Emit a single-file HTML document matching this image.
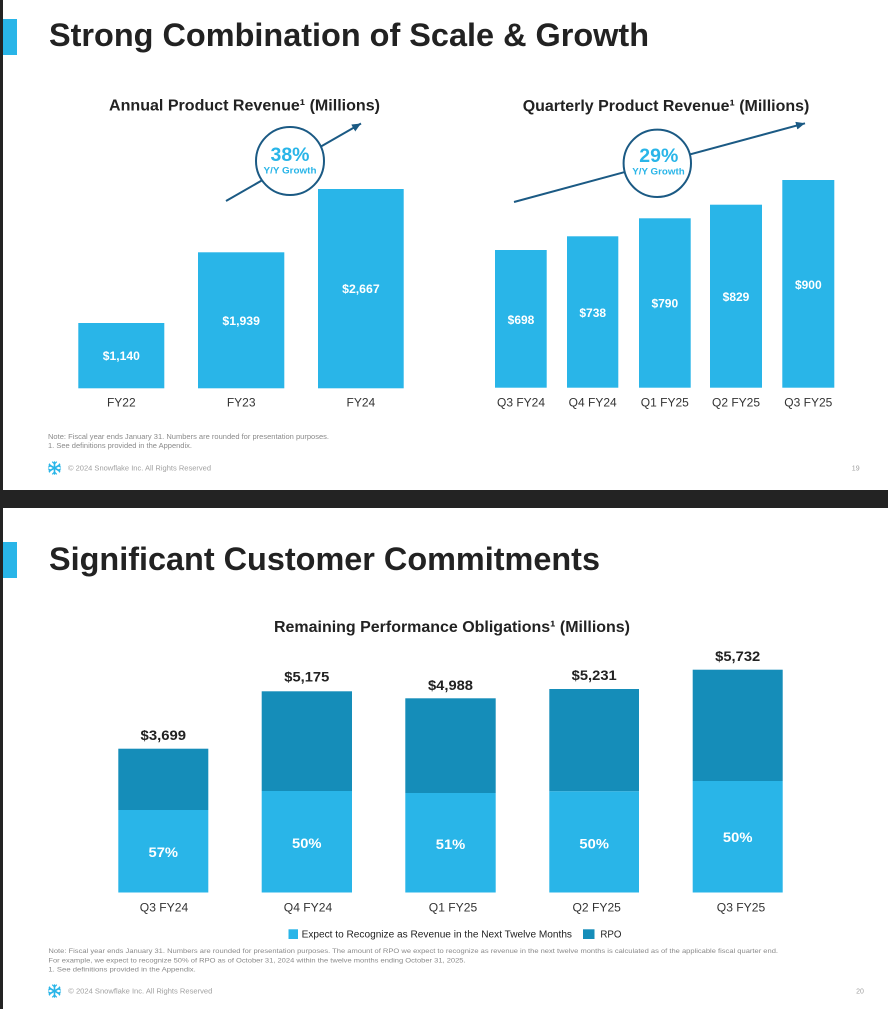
<!DOCTYPE html>
<html>
<head>
<meta charset="utf-8">
<style>
  html,body{margin:0;padding:0;background:#fff;}
  body{width:888px;height:1009px;overflow:hidden;}
  svg{display:block;font-family:"Liberation Sans",Arial,sans-serif;}
</style>
</head>
<body>
<svg width="888" height="1009" viewBox="0 0 888 1009" xmlns="http://www.w3.org/2000/svg">
  <defs>
    <marker id="ah" markerUnits="userSpaceOnUse" markerWidth="10" markerHeight="10" refX="9" refY="4" orient="auto">
      <path d="M0,0 L9,4 L0,8 z" fill="#1b5a84"/>
    </marker>
    <g id="flake" stroke="#29b5e8" stroke-width="1.6" stroke-linecap="round" fill="none">
      <line x1="0" y1="-6" x2="0" y2="6"/>
      <line x1="-5.2" y1="-3" x2="5.2" y2="3"/>
      <line x1="-5.2" y1="3" x2="5.2" y2="-3"/>
      <path d="M-2,-6 L0,-4 L2,-6 M-2,6 L0,4 L2,6" stroke-width="1.2"/>
      <path d="M-6,-1 L-4,-2 L-5,-4 M6,1 L4,2 L5,4 M-6,1 L-4,2 L-5,4 M6,-1 L4,-2 L5,-4" stroke-width="1.2"/>
    </g>
  </defs>

  <!-- frame -->
  <rect x="0" y="0" width="3" height="1009" fill="#232323"/>
  <rect x="0" y="490" width="888" height="18" fill="#232323"/>

  <!-- ============ SLIDE 19 ============ -->
  <rect x="3" y="19" width="14" height="36" fill="#29b5e8"/>
  <text x="49" y="46" font-size="32" font-weight="bold" fill="#222" textLength="600" lengthAdjust="spacingAndGlyphs">Strong Combination of Scale &amp; Growth</text>

  <!-- Annual chart -->
  <text x="109" y="110.7" font-size="16" font-weight="bold" fill="#222" textLength="271" lengthAdjust="spacingAndGlyphs">Annual Product Revenue¹ (Millions)</text>

  <line x1="226" y1="201" x2="361" y2="123.5" stroke="#1b5a84" stroke-width="2" marker-end="url(#ah)"/>
  <circle cx="290" cy="161" r="34" fill="#fff" stroke="#1b5a84" stroke-width="2"/>
  <text x="290" y="161" font-size="19" font-weight="bold" fill="#29b5e8" text-anchor="middle" textLength="39" lengthAdjust="spacingAndGlyphs">38%</text>
  <text x="290" y="173.3" font-size="9.5" font-weight="bold" fill="#29b5e8" text-anchor="middle" textLength="53" lengthAdjust="spacingAndGlyphs">Y/Y Growth</text>

  <g fill="#29b5e8">
    <rect x="78.3" y="323" width="86" height="65.3"/>
    <rect x="198" y="252.3" width="86.3" height="136"/>
    <rect x="318" y="189" width="85.7" height="199.3"/>
  </g>
  <g font-size="12" font-weight="bold" fill="#fff" text-anchor="middle">
    <text x="121.3" y="360" textLength="37" lengthAdjust="spacingAndGlyphs">$1,140</text>
    <text x="241.2" y="325" textLength="37.5" lengthAdjust="spacingAndGlyphs">$1,939</text>
    <text x="360.9" y="293" textLength="37.5" lengthAdjust="spacingAndGlyphs">$2,667</text>
  </g>
  <g font-size="12" fill="#333" text-anchor="middle">
    <text x="121.3" y="406.6">FY22</text>
    <text x="241.2" y="406.6">FY23</text>
    <text x="360.9" y="406.6">FY24</text>
  </g>

  <!-- Quarterly chart -->
  <text x="522.7" y="111" font-size="16" font-weight="bold" fill="#222" textLength="286.6" lengthAdjust="spacingAndGlyphs">Quarterly Product Revenue¹ (Millions)</text>

  <line x1="514" y1="202" x2="805" y2="123.3" stroke="#1b5a84" stroke-width="2" marker-end="url(#ah)"/>
  <circle cx="657.3" cy="163.3" r="33.7" fill="#fff" stroke="#1b5a84" stroke-width="2"/>
  <text x="658.8" y="162" font-size="19" font-weight="bold" fill="#29b5e8" text-anchor="middle" textLength="39" lengthAdjust="spacingAndGlyphs">29%</text>
  <text x="658.5" y="174.7" font-size="9.5" font-weight="bold" fill="#29b5e8" text-anchor="middle" textLength="52.4" lengthAdjust="spacingAndGlyphs">Y/Y Growth</text>

  <g fill="#29b5e8">
    <rect x="495" y="250" width="51.7" height="137.7"/>
    <rect x="567" y="236.3" width="51.3" height="151.4"/>
    <rect x="639" y="218.3" width="51.7" height="169.4"/>
    <rect x="710" y="204.7" width="52" height="183"/>
    <rect x="782.3" y="180" width="52" height="207.7"/>
  </g>
  <g font-size="12" font-weight="bold" fill="#fff" text-anchor="middle">
    <text x="521" y="324">$698</text>
    <text x="592.7" y="317">$738</text>
    <text x="664.8" y="307.6">$790</text>
    <text x="736" y="301">$829</text>
    <text x="808.3" y="289">$900</text>
  </g>
  <g font-size="12" fill="#333" text-anchor="middle">
    <text x="521" y="406.6">Q3 FY24</text>
    <text x="592.7" y="406.6">Q4 FY24</text>
    <text x="664.8" y="406.6">Q1 FY25</text>
    <text x="736" y="406.6">Q2 FY25</text>
    <text x="808.3" y="406.6">Q3 FY25</text>
  </g>

  <!-- notes / footer 19 -->
  <g font-size="7" fill="#8a8a8a">
    <text x="48" y="439.2" textLength="281" lengthAdjust="spacingAndGlyphs">Note: Fiscal year ends January 31. Numbers are rounded for presentation purposes.</text>
    <text x="48" y="447.8" textLength="144" lengthAdjust="spacingAndGlyphs">1. See definitions provided in the Appendix.</text>
  </g>
  <use href="#flake" x="54.5" y="468"/>
  <text x="68" y="470.5" font-size="7" fill="#a0a0a0" textLength="143" lengthAdjust="spacingAndGlyphs">© 2024 Snowflake Inc. All Rights Reserved</text>
  <text x="855.7" y="470.6" font-size="7" fill="#a0a0a0" text-anchor="middle">19</text>

  <!-- ============ SLIDE 20 ============ -->
  <rect x="3" y="542" width="14" height="36" fill="#29b5e8"/>
  <text x="49" y="570" font-size="32" font-weight="bold" fill="#222" textLength="551" lengthAdjust="spacingAndGlyphs">Significant Customer Commitments</text>

  <text x="274" y="632" font-size="16" font-weight="bold" fill="#222" textLength="356" lengthAdjust="spacingAndGlyphs">Remaining Performance Obligations¹ (Millions)</text>

  <!-- stacked bars -->
  <g>
    <rect x="118.3" y="748.7" width="90" height="61.3" fill="#158db9"/>
    <rect x="118.3" y="810" width="90" height="82.5" fill="#29b5e8"/>

    <rect x="261.7" y="691.3" width="90.3" height="99.7" fill="#158db9"/>
    <rect x="261.7" y="791" width="90.3" height="101.5" fill="#29b5e8"/>

    <rect x="405.3" y="698.3" width="90.4" height="94.7" fill="#158db9"/>
    <rect x="405.3" y="793" width="90.4" height="99.5" fill="#29b5e8"/>

    <rect x="549.3" y="689" width="89.7" height="102.3" fill="#158db9"/>
    <rect x="549.3" y="791.3" width="89.7" height="101.2" fill="#29b5e8"/>

    <rect x="692.7" y="669.7" width="90" height="111.3" fill="#158db9"/>
    <rect x="692.7" y="781" width="90" height="111.5" fill="#29b5e8"/>
  </g>
  <g font-size="14" font-weight="bold" fill="#222" text-anchor="middle">
    <text x="163.3" y="740" textLength="45.5" lengthAdjust="spacingAndGlyphs">$3,699</text>
    <text x="306.8" y="681.7" textLength="45" lengthAdjust="spacingAndGlyphs">$5,175</text>
    <text x="450.5" y="690" textLength="45" lengthAdjust="spacingAndGlyphs">$4,988</text>
    <text x="594.2" y="680" textLength="45" lengthAdjust="spacingAndGlyphs">$5,231</text>
    <text x="737.7" y="661" textLength="45" lengthAdjust="spacingAndGlyphs">$5,732</text>
  </g>
  <g font-size="14" font-weight="bold" fill="#fff" text-anchor="middle">
    <text x="163.3" y="857" textLength="29.5" lengthAdjust="spacingAndGlyphs">57%</text>
    <text x="306.8" y="848" textLength="29.5" lengthAdjust="spacingAndGlyphs">50%</text>
    <text x="450.5" y="849" textLength="29.5" lengthAdjust="spacingAndGlyphs">51%</text>
    <text x="594.2" y="848.3" textLength="29.5" lengthAdjust="spacingAndGlyphs">50%</text>
    <text x="737.7" y="842" textLength="29.5" lengthAdjust="spacingAndGlyphs">50%</text>
  </g>
  <g font-size="12" fill="#333" text-anchor="middle">
    <text x="164" y="911.6" textLength="48.4" lengthAdjust="spacingAndGlyphs">Q3 FY24</text>
    <text x="308" y="911.6" textLength="48.4" lengthAdjust="spacingAndGlyphs">Q4 FY24</text>
    <text x="453" y="911.6" textLength="48.4" lengthAdjust="spacingAndGlyphs">Q1 FY25</text>
    <text x="596.7" y="911.6" textLength="48.4" lengthAdjust="spacingAndGlyphs">Q2 FY25</text>
    <text x="741" y="911.6" textLength="48.4" lengthAdjust="spacingAndGlyphs">Q3 FY25</text>
  </g>

  <!-- legend -->
  <rect x="288.5" y="929.3" width="9.5" height="9.7" fill="#29b5e8"/>
  <text x="301.6" y="937.6" font-size="10" fill="#222" textLength="270.4" lengthAdjust="spacingAndGlyphs">Expect to Recognize as Revenue in the Next Twelve Months</text>
  <rect x="583" y="929.3" width="11.5" height="9.7" fill="#158db9"/>
  <text x="600.4" y="937.6" font-size="10" fill="#222" textLength="21.1" lengthAdjust="spacingAndGlyphs">RPO</text>

  <!-- notes / footer 20 -->
  <g font-size="6.5" fill="#8a8a8a">
    <text x="48.4" y="953" textLength="729.6" lengthAdjust="spacingAndGlyphs">Note: Fiscal year ends January 31. Numbers are rounded for presentation purposes. The amount of RPO we expect to recognize as revenue in the next twelve months is calculated as of the applicable fiscal quarter end.</text>
    <text x="48.4" y="962.6" textLength="417.2" lengthAdjust="spacingAndGlyphs">For example, we expect to recognize 50% of RPO as of October 31, 2024 within the twelve months ending October 31, 2025.</text>
    <text x="48.4" y="971.6" textLength="147.4" lengthAdjust="spacingAndGlyphs">1.  See definitions provided in the Appendix.</text>
  </g>
  <use href="#flake" x="54.5" y="991"/>
  <text x="68.3" y="993.4" font-size="7" fill="#a0a0a0" textLength="144" lengthAdjust="spacingAndGlyphs">© 2024 Snowflake Inc. All Rights Reserved</text>
  <text x="860" y="993.5" font-size="7" fill="#a0a0a0" text-anchor="middle">20</text>
</svg>
</body>
</html>
